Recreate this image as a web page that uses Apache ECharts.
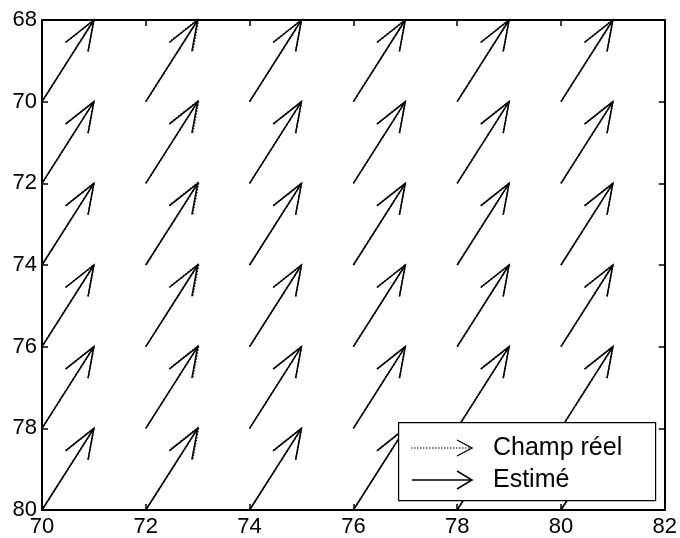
<!DOCTYPE html>
<html>
<head>
<meta charset="utf-8">
<script src="https://cdn.jsdelivr.net/npm/echarts@6/dist/echarts.min.js"></script>
<style>html,body{margin:0;padding:0;background:#fff;}#c{width:680px;height:538px;}</style>
</head>
<body>
<div id="c"></div>
<script>
// Grid of arrow tails
const gridX = [70, 72, 74, 76, 78, 80];
const gridY = [70, 72, 74, 76, 78, 80];
// Vector components per column (same for every row)
const realU = [1, 1.02, 1, 1, 1, 1];
const realV = [-2, -2.03, -2, -2, -2, -2];
const estU = [1, 1, 1, 1, 1, 1];
const estV = [-2, -2, -2, -2, -2, -2];
// Tick labels
const xTicks = [70, 72, 74, 76, 78, 80, 82];
const yTicks = [68, 70, 72, 74, 76, 78, 80];
const legendNames = ['Champ réel', 'Estimé'];

function buildData(U, V) {
  const d = [];
  gridX.forEach((x, i) => gridY.forEach(y => d.push([x, y, U[i], V[i]])));
  return d;
}

function arrowRenderer(dash) {
  return function (params, api) {
    const x = api.value(0), y = api.value(1), u = api.value(2), v = api.value(3);
    const a = 0.33, b = 0.33;
    const hx = x + u, hy = y + v;
    const b1 = [hx - a * (u + b * v), hy - a * (v - b * u)];
    const b2 = [hx - a * (u - b * v), hy - a * (v + b * u)];
    const p0 = api.coord([x, y]), p1 = api.coord([hx, hy]);
    const q1 = api.coord(b1), q2 = api.coord(b2);
    const style = { stroke: '#000', lineWidth: 1.5, fill: null, lineDash: dash };
    return {
      type: 'group',
      children: [
        { type: 'polyline', shape: { points: [p0, p1] }, style: style },
        { type: 'polyline', shape: { points: [q1, p1, q2] }, style: style }
      ]
    };
  };
}

const chart = echarts.init(document.getElementById('c'), null, { renderer: 'canvas' });
const font = 'Liberation Sans, Arial, sans-serif';
const axisCommon = {
  type: 'value',
  interval: 2,
  splitLine: { show: false },
  axisLine: { show: true, onZero: false, lineStyle: { color: '#000', width: 2 } },
  axisTick: { show: true, inside: true, length: 6, lineStyle: { color: '#000', width: 1.5 } }
};
chart.setOption({
  backgroundColor: '#fff',
  animation: false,
  grid: { left: 42, right: 13, top: 20, bottom: 27, containLabel: false },
  xAxis: [
    Object.assign({}, axisCommon, {
      min: xTicks[0], max: xTicks[xTicks.length - 1], position: 'bottom',
      axisLabel: { show: true, color: '#000', fontSize: 22, fontFamily: font, margin: 6,
        formatter: v => xTicks.includes(v) ? String(v) : '' }
    }),
    Object.assign({}, axisCommon, {
      min: xTicks[0], max: xTicks[xTicks.length - 1], position: 'top',
      axisLabel: { show: false }
    })
  ],
  yAxis: [
    Object.assign({}, axisCommon, {
      min: yTicks[0], max: yTicks[yTicks.length - 1], inverse: true, position: 'left',
      axisLabel: { show: true, color: '#000', fontSize: 22, fontFamily: font, margin: 5,
        formatter: v => yTicks.includes(v) ? String(v) : '' }
    }),
    Object.assign({}, axisCommon, {
      min: yTicks[0], max: yTicks[yTicks.length - 1], inverse: true, position: 'right',
      axisLabel: { show: false }
    })
  ],
  series: [
    { type: 'custom', name: legendNames[0], renderItem: arrowRenderer([1.5, 1.5]),
      data: buildData(realU, realV), encode: { x: 0, y: 1 }, clip: false, z: 2 },
    { type: 'custom', name: legendNames[1], renderItem: arrowRenderer(null),
      data: buildData(estU, estV), encode: { x: 0, y: 1 }, clip: false, z: 3 }
  ],
  graphic: [
    { type: 'rect', left: 398, top: 422, z: 10,
      shape: { width: 257, height: 78 }, style: { fill: '#fff', stroke: '#000', lineWidth: 1.2 } },
    { type: 'polyline', z: 11, shape: { points: [[411, 448], [472, 448]] },
      style: { stroke: '#000', lineWidth: 1.2, lineDash: [1.5, 1.5], fill: null } },
    { type: 'polyline', z: 11, shape: { points: [[457, 440], [472, 448], [457, 456]] },
      style: { stroke: '#000', lineWidth: 1.3, fill: null } },
    { type: 'polyline', z: 11, shape: { points: [[412, 480], [472, 480]] },
      style: { stroke: '#000', lineWidth: 1.5, fill: null } },
    { type: 'polyline', z: 11, shape: { points: [[457, 471], [472, 480], [457, 489]] },
      style: { stroke: '#000', lineWidth: 1.5, fill: null } },
    { type: 'text', x: 493, y: 448, z: 11,
      style: { text: legendNames[0], fill: '#000', font: '25px ' + font, verticalAlign: 'middle' } },
    { type: 'text', x: 493, y: 480, z: 11,
      style: { text: legendNames[1], fill: '#000', font: '25px ' + font, verticalAlign: 'middle' } }
  ]
});
</script>
</body>
</html>
